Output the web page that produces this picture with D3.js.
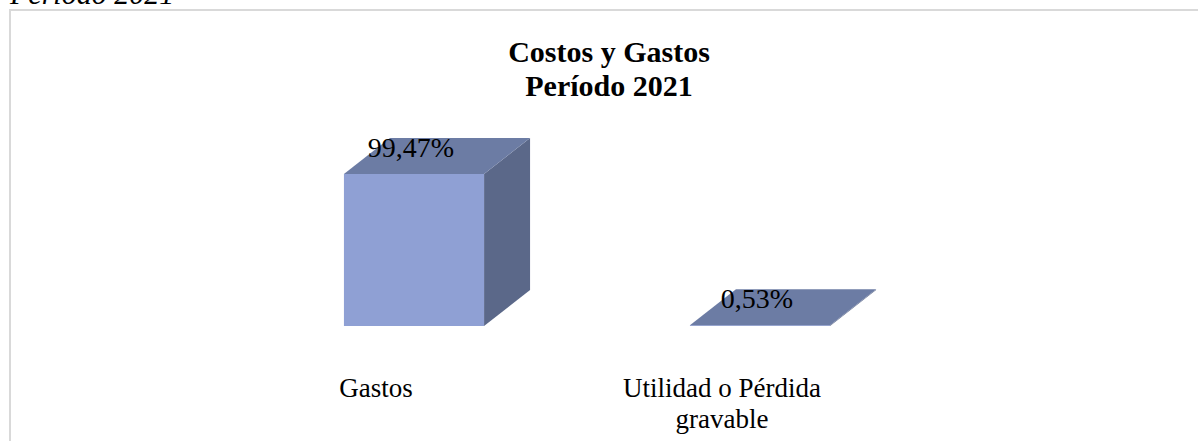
<!DOCTYPE html>
<html>
<head>
<meta charset="utf-8">
<script src="https://cdn.jsdelivr.net/npm/d3@7"></script>
<style>
  body { margin: 0; background: #fff; }
  svg { display: block; }
</style>
</head>
<body>
<div id="chartDiv"></div>
<script>
// data
var categories = ["Gastos", "Utilidad o Pérdida gravable"];
var values = [99.47, 0.53];
var valueLabels = ["99,47%", "0,53%"];
var titleLines = ["Costos y Gastos", "Período 2021"];

var width = 1198, height = 441;
var serif = "'Liberation Serif', 'Times New Roman', serif";

var svg = d3.select("#chartDiv").append("svg")
    .attr("width", width)
    .attr("height", height);

// caption of the document, cut by the crop
svg.append("text")
    .attr("x", 10)
    .attr("y", 4)
    .style("font-family", serif)
    .style("font-style", "italic")
    .style("font-size", "30px")
    .text("Período 2021");

// chart area border
svg.append("rect")
    .attr("x", 10).attr("y", 10)
    .attr("width", 1200).attr("height", 440)
    .attr("fill", "none")
    .attr("stroke", "#D9D9D9")
    .attr("stroke-width", 2);

// title
var title = svg.append("text")
    .attr("text-anchor", "middle")
    .style("font-family", serif)
    .style("font-weight", "bold")
    .style("font-size", "30px");
title.selectAll("tspan")
    .data(titleLines)
    .enter()
    .append("tspan")
    .attr("x", 609)
    .attr("y", function(d, i){ return 62 + i * 34; })
    .text(function(d){ return d; });

// scales
var pInner = 0.595;
var xScale = d3.scaleBand()
    .domain(categories)
    .range([241, 933])
    .paddingInner(pInner)
    .paddingOuter(pInner / 2);

var yScale = d3.scaleLinear()
    .domain([0, 100])
    .range([326, 173.2]);

var depthX = 46, depthY = -36; // 3d offset of the back face
var bw = xScale.bandwidth();

var data = categories.map(function(c, i){
    return {cat: c, value: values[i], label: valueLabels[i]};
});

var bars = svg.selectAll(".bar")
    .data(data)
    .enter()
    .append("g")
    .attr("class", "bar");

// right side face
bars.append("path")
    .attr("fill", "#5B6889")
    .attr("d", function(d){
        var x1 = xScale(d.cat) + bw, y0 = yScale(0), y1 = yScale(d.value);
        return "M" + x1 + "," + y0 + "L" + (x1 + depthX) + "," + (y0 + depthY) +
            "L" + (x1 + depthX) + "," + (y1 + depthY) + "L" + x1 + "," + y1 + "Z";
    });

// front face
bars.append("rect")
    .attr("fill", "#8FA0D4")
    .attr("x", function(d){ return xScale(d.cat); })
    .attr("y", function(d){ return yScale(d.value); })
    .attr("width", bw)
    .attr("height", function(d){ return yScale(0) - yScale(d.value); });

// top face
bars.append("path")
    .attr("fill", "#6C7CA4")
    .attr("d", function(d){
        var x0 = xScale(d.cat), y1 = yScale(d.value);
        return "M" + x0 + "," + y1 + "L" + (x0 + bw) + "," + y1 +
            "L" + (x0 + bw + depthX) + "," + (y1 + depthY) +
            "L" + (x0 + depthX) + "," + (y1 + depthY) + "Z";
    });

// value labels
bars.append("text")
    .attr("text-anchor", "middle")
    .attr("x", function(d){ return xScale(d.cat) + bw / 2 - 3; })
    .attr("y", function(d){ return yScale(d.value) + depthY / 2 + 1; })
    .style("font-family", serif)
    .style("font-size", "28px")
    .text(function(d){ return d.label; });

// category labels, wrapped like the original
var catLines = {
    "Gastos": ["Gastos"],
    "Utilidad o Pérdida gravable": ["Utilidad o Pérdida", "gravable"]
};
var catText = svg.selectAll(".catLabel")
    .data(categories)
    .enter()
    .append("text")
    .attr("class", "catLabel")
    .attr("text-anchor", "middle")
    .style("font-family", serif)
    .style("font-size", "27px");
catText.selectAll("tspan")
    .data(function(c){ return catLines[c].map(function(t){ return {c: c, t: t}; }); })
    .enter()
    .append("tspan")
    .attr("x", function(d){ return xScale(d.c) + bw / 2 - 38; })
    .attr("y", function(d, i){ return 397 + i * 31; })
    .text(function(d){ return d.t; });
</script>
</body>
</html>
